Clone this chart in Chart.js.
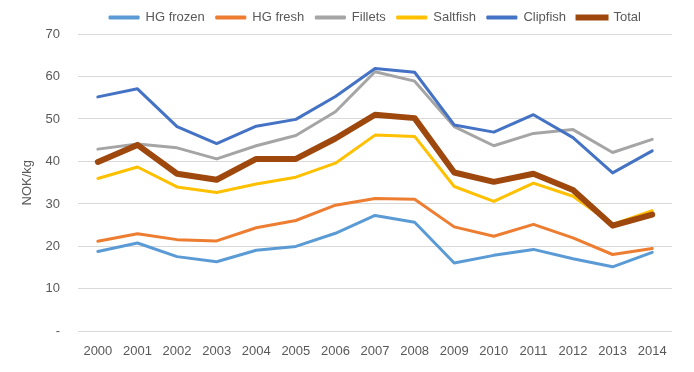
<!DOCTYPE html>
<html lang="en">
<head>
    <meta charset="UTF-8">
    <script src="https://cdn.jsdelivr.net/npm/chart.js@4"></script>
    <title>NOK/kg chart</title>
    <style type="text/css">
        body { margin: 0; background: #fff; }
    </style>
</head>
<body>
    <canvas id="priceCanvas" width="694" height="372"></canvas>
<script>
var years = ['2000','2001','2002','2003','2004','2005','2006','2007','2008','2009','2010','2011','2012','2013','2014'];
var hgFrozen = [18.8, 20.8, 17.6, 16.4, 19.1, 20.0, 23.1, 27.3, 25.7, 16.1, 17.9, 19.3, 17.1, 15.2, 18.6];
var hgFresh  = [21.2, 23.0, 21.6, 21.3, 24.4, 26.1, 29.7, 31.3, 31.1, 24.6, 22.4, 25.2, 22.0, 18.1, 19.5];
var fillets  = [42.9, 44.1, 43.2, 40.6, 43.7, 46.1, 51.7, 61.1, 58.9, 48.2, 43.7, 46.6, 47.5, 42.1, 45.2];
var saltfish = [36.0, 38.7, 34.0, 32.7, 34.7, 36.3, 39.6, 46.2, 45.9, 34.1, 30.6, 34.9, 31.8, 25.2, 28.4];
var clipfish = [55.2, 57.1, 48.2, 44.2, 48.3, 49.9, 55.3, 61.9, 61.0, 48.6, 46.9, 51.0, 45.6, 37.3, 42.5];
var total    = [39.9, 43.9, 37.1, 35.7, 40.6, 40.6, 45.4, 51.0, 50.2, 37.4, 35.2, 37.1, 33.3, 24.9, 27.5];
var yTicks = [0, 10, 20, 30, 40, 50, 60, 70];

var series = [
    { label: 'HG frozen', data: hgFrozen, color: '#5B9BD5', width: 3 },
    { label: 'HG fresh',  data: hgFresh,  color: '#ED7D31', width: 3 },
    { label: 'Fillets',   data: fillets,  color: '#A5A5A5', width: 3 },
    { label: 'Saltfish',  data: saltfish, color: '#FFC000', width: 3 },
    { label: 'Clipfish',  data: clipfish, color: '#4472C4', width: 3 },
    { label: 'Total',     data: total,    color: '#9E480E', width: 6 }
];

var textColor = '#595959';
var font = { family: 'Liberation Sans', size: 13 };

var datasets = series.map(function (s, i) {
    return {
        label: s.label,
        data: s.data,
        borderColor: s.color,
        backgroundColor: s.color,
        borderWidth: s.width,
        pointRadius: 0,
        tension: 0,
        borderCapStyle: 'round',
        borderJoinStyle: 'round',
        order: series.length - i
    };
});

var ctx = document.getElementById('priceCanvas');
var priceChart = new Chart(ctx, {
    type: 'line',
    data: { labels: years, datasets: datasets },
    options: {
        responsive: false,
        animation: false,
        layout: { padding: { left: 20, right: 22, top: 0, bottom: 9 } },
        plugins: {
            tooltip: { enabled: false },
            legend: {
                display: true,
                position: 'top',
                fullSize: false,
                labels: {
                    color: textColor,
                    font: font,
                    boxWidth: 30,
                    boxHeight: 3,
                    padding: 11,
                    sort: function (a, b) { return a.datasetIndex - b.datasetIndex; },
                    generateLabels: function (chart) {
                        return chart.data.datasets.map(function (ds, i) {
                            return {
                                text: ds.label,
                                fillStyle: ds.borderColor,
                                strokeStyle: ds.borderColor,
                                lineWidth: ds.borderWidth > 3 ? 3 : 1,
                                fontColor: textColor,
                                hidden: false,
                                datasetIndex: i
                            };
                        });
                    }
                }
            }
        },
        scales: {
            x: {
                offset: true,
                grid: { display: false },
                border: { display: false },
                ticks: { color: textColor, font: font, padding: 4, maxRotation: 0, autoSkip: false }
            },
            y: {
                min: 0,
                max: 70,
                afterBuildTicks: function (axis) {
                    axis.ticks = yTicks.map(function (v) { return { value: v }; });
                },
                grid: { color: '#D9D9D9', lineWidth: 1, drawTicks: false },
                border: { display: false },
                ticks: {
                    color: textColor,
                    font: font,
                    padding: 18,
                    callback: function (value) { return value === 0 ? '-' : value; }
                },
                title: { display: true, text: 'NOK/kg', color: textColor, font: font, padding: { top: 0, bottom: -8 } }
            }
        }
    }
});
</script>
</body>
</html>
